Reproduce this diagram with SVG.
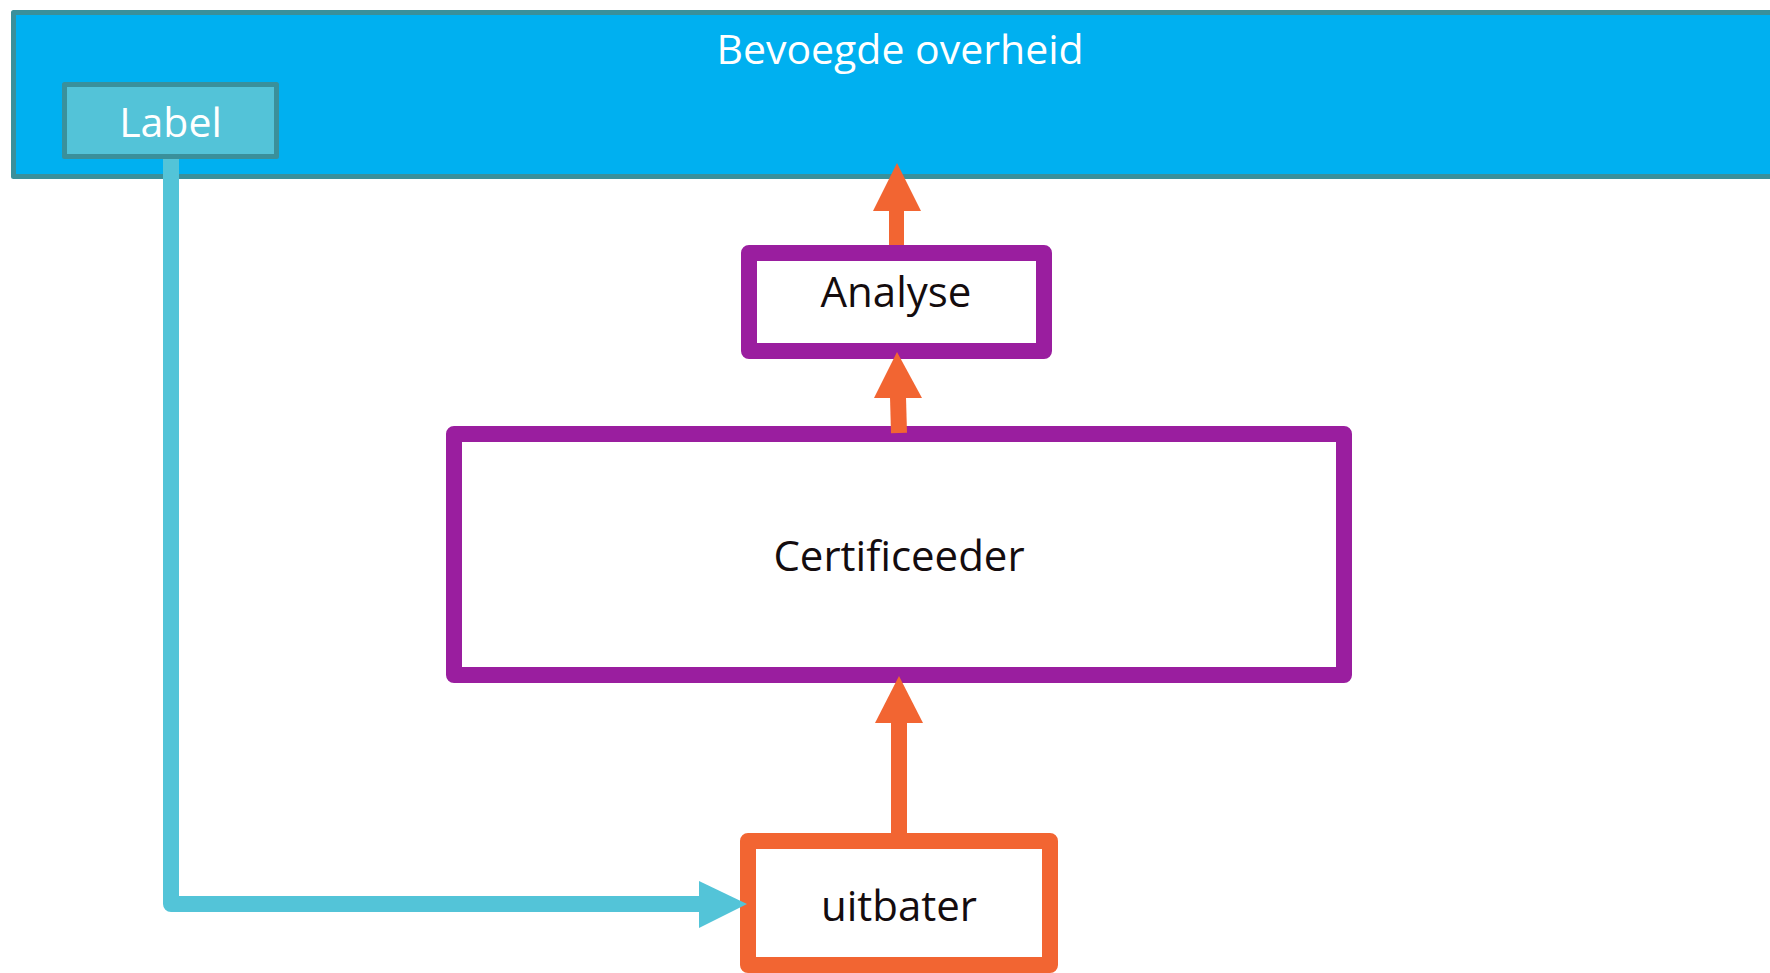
<svg xmlns="http://www.w3.org/2000/svg" width="1770" height="973" viewBox="0 0 1770 973">
<style>
.txt{font-family:"Open Sans","Liberation Sans",sans-serif;text-anchor:middle}
.dark{fill:#140C0E}
.white{fill:#FFFFFF}
.pbox{fill:#FFFFFF;stroke:#9A1E9F;stroke-width:16;stroke-linejoin:round}
.obox{fill:#FFFFFF;stroke:#F26532;stroke-width:16;stroke-linejoin:round}
.oline{stroke:#F26532;fill:none}
.ohead{fill:#F26532}
.cline{stroke:#53C4D8;stroke-width:16;fill:none;stroke-linejoin:round}
.chead{fill:#53C4D8}
</style>
<rect width="1770" height="973" fill="#FFFFFF"/>
<g id="bevoegde-overheid">
<rect x="13.5" y="12.5" width="1780" height="164" fill="#00B0F0" stroke="#3A909B" stroke-width="5" stroke-linejoin="round"/>
<text class="txt white" x="900" y="64" font-size="41">Bevoegde overheid</text>
</g>
<g id="label">
<rect x="64.5" y="84.5" width="212" height="72" fill="#53C3D8" stroke="#3A909B" stroke-width="5" stroke-linejoin="round"/>
<text class="txt white" x="170.5" y="137" font-size="41">Label</text>
</g>
<g id="analyse">
<rect class="pbox" x="749" y="253" width="295" height="98"/>
<text class="txt dark" x="896" y="307" font-size="42">Analyse</text>
</g>
<g id="certificeeder">
<rect class="pbox" x="454" y="434" width="890" height="241"/>
<text class="txt dark" x="899" y="571" font-size="42">Certificeeder</text>
</g>
<g id="uitbater">
<rect class="obox" x="748" y="841" width="302" height="124"/>
<text class="txt dark" x="899" y="921" font-size="42">uitbater</text>
</g>
<g id="connectors">
<line class="oline" x1="899" y1="833" x2="899" y2="722" stroke-width="16"/>
<polygon class="ohead" points="875,723 923,723 899,676"/>
<line class="oline" x1="899" y1="433" x2="898" y2="397" stroke-width="16"/>
<polygon class="ohead" points="874,398 922,398 897,352"/>
<line class="oline" x1="896.5" y1="245" x2="896.5" y2="210" stroke-width="15"/>
<polygon class="ohead" points="873,211 921,211 897,163"/>
<path class="cline" d="M171,159 V904 H700"/>
<polygon class="chead" points="699,881 699,928 747,904"/>
</g>
</svg>
